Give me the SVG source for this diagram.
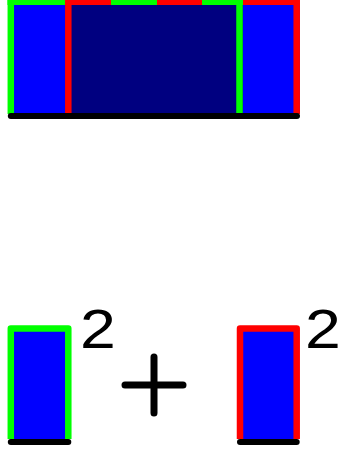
<svg xmlns="http://www.w3.org/2000/svg" width="340" height="450" viewBox="0 0 340 450">
<style>
.g{stroke:#00ff00;fill:none;stroke-width:6.5;stroke-linejoin:round}
.r{stroke:#ff0000;fill:none;stroke-width:6.5;stroke-linejoin:round}
.k{stroke:#000;fill:none;stroke-width:6;stroke-linecap:round}
.b{fill:#0000ff}
.n{fill:#000080}
.t{font-family:"Liberation Sans",Arial,sans-serif;font-size:56px;fill:#000}
</style>
<rect width="340" height="450" fill="#fff"/>
<g id="top">
<rect class="b" x="8" y="0" width="292" height="114"/>
<rect class="n" x="65" y="0" width="178" height="114"/>
<path class="g" d="M10.8,114 V0"/>
<path class="r" d="M68.3,114 V0"/>
<path class="g" d="M239.5,114 V0"/>
<path class="r" d="M296.7,114 V0"/>
<rect fill="#00ff00" x="7.5" y="0" width="57.5" height="5"/>
<rect fill="#ff0000" x="65" y="0" width="46" height="5"/>
<rect fill="#00ff00" x="111" y="0" width="46" height="5"/>
<rect fill="#ff0000" x="157" y="0" width="45" height="5"/>
<rect fill="#00ff00" x="202" y="0" width="41" height="5"/>
<rect fill="#ff0000" x="243" y="0" width="57" height="5"/>
<path class="k" d="M10.8,116 H297"/>
</g>
<g id="left">
<rect class="b" x="11" y="328.5" width="57.3" height="111"/>
<path class="g" d="M10.8,439 V328.5 H68.3 V439"/>
<path class="k" d="M10.8,442 H68.3"/>
<text class="t" transform="translate(80,348) scale(1.15,1)">2</text>
</g>
<g id="plus">
<path class="k" d="M125,385 H183 M154,357 V413" style="stroke-width:7"/>
</g>
<g id="right">
<rect class="b" x="240" y="328.5" width="56.7" height="111"/>
<path class="r" d="M240,439 V328.5 H296.7 V439"/>
<path class="k" d="M240,442 H296.7"/>
<text class="t" transform="translate(305,348) scale(1.15,1)">2</text>
</g>
</svg>
